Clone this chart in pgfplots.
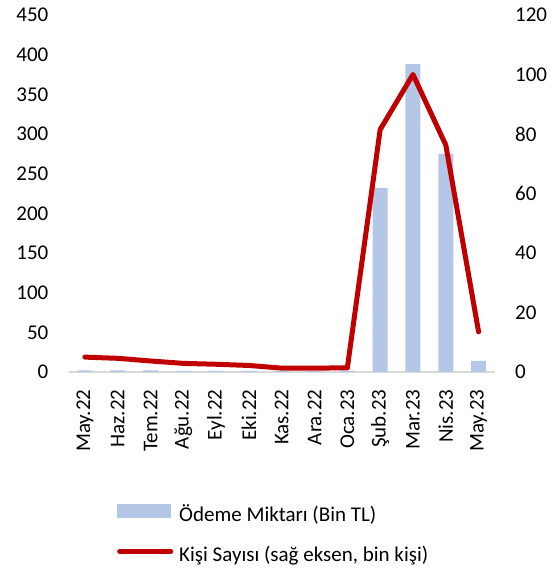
\documentclass[border=0pt]{standalone}
\usepackage{fontspec}
\setmainfont{Carlito}
\usepackage{pgfplots}
\pgfplotsset{compat=1.18}
\definecolor{barblue}{HTML}{B4C7E7}
\definecolor{linered}{HTML}{C00000}
\definecolor{basegrey}{HTML}{D9D9D9}
\begin{document}
\fontsize{21bp}{25bp}\selectfont
\begin{tikzpicture}
\path[use as bounding box] (0,0) rectangle (553bp,569bp);
\begin{axis}[
  at={(68.5bp,197bp)}, anchor=south west,
  scale only axis, width=426.5bp, height=357bp,
  xmin=-0.5, xmax=12.5, ymin=0, ymax=450,
  ytick={0,50,...,450},
  xtick={0,...,12},
  xticklabels={May.22,Haz.22,Tem.22,Ağu.22,Eyl.22,Eki.22,Kas.22,Ara.22,Oca.23,Şub.23,Mar.23,Nis.23,May.23},
  x tick label style={rotate=90, anchor=east, inner sep=0pt, xshift=-13bp},
  y tick label style={anchor=east, inner sep=0pt, xshift=-20bp},
  /pgf/number format/assume math mode=true,
  tick style={draw=none},
  axis x line*=bottom, axis y line*=left,
  x axis line style={draw=basegrey, line width=1.5bp},
  y axis line style={draw=none},
  ybar, bar width=15bp,
]
\addplot[fill=barblue, draw=none] coordinates {
(0,2) (1,2) (2,2) (3,1.5) (4,1.5) (5,1.5) (6,1) (7,1) (8,1.5) (9,232) (10,388) (11,275) (12,14)};
\end{axis}
\begin{axis}[
  at={(68.5bp,197bp)}, anchor=south west,
  scale only axis, width=426.5bp, height=357bp,
  xmin=-0.5, xmax=12.5, ymin=0, ymax=120,
  ytick={0,20,...,120},
  hide x axis,
  axis y line*=right,
  y axis line style={draw=none},
  tick style={draw=none},
  y tick label style={anchor=west, inner sep=0pt, xshift=20bp},
  /pgf/number format/assume math mode=true,
  legend style={at={(axis description cs:0.1137,-0.3697)}, anchor=north west,
    draw=none, fill=none, inner sep=0pt, row sep=20bp, column sep=6bp,
    nodes={inner sep=0pt, text height=15bp, text depth=5bp}},
  legend cell align=left,
]
\addlegendimage{legend image code/.code={\fill[barblue] (0bp,-1bp) rectangle (53bp,12bp);}}
\addlegendentry{Ödeme Miktarı (Bin TL)}
\addplot[linered, line width=5bp, line join=round, line cap=round,
  legend image code/.code={\draw[linered, line width=5bp, line cap=round] (2bp,5bp) -- (53bp,5bp);}]
  coordinates {
(0,5.0) (1,4.6) (2,3.7) (3,2.9) (4,2.6) (5,2.2) (6,1.3) (7,1.3) (8,1.4) (9,81.5) (10,100) (11,76.3) (12,13.5)};
\addlegendentry{Kişi Sayısı (sağ eksen, bin kişi)}
\end{axis}
\end{tikzpicture}
\end{document}
